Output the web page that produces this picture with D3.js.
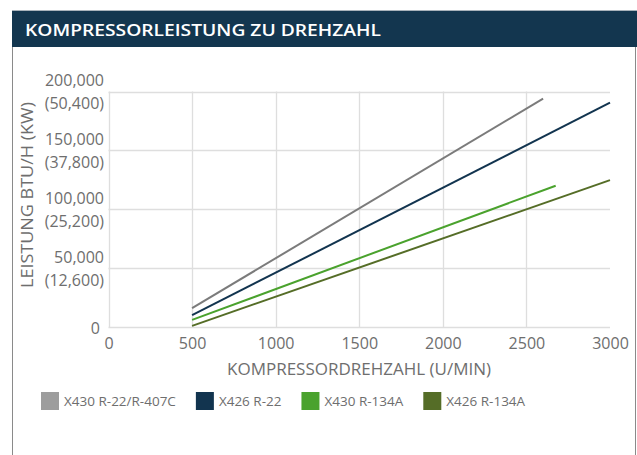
<!DOCTYPE html>
<html>
<head>
<meta charset="utf-8">
<script src="https://cdn.jsdelivr.net/npm/d3@7"></script>
<style>
  html, body { margin: 0; padding: 0; background: #fff; }
  svg { display: block; font-family: "Open Sans", "Noto Sans", sans-serif; }
</style>
</head>
<body>
<svg id="chart" width="637" height="455"></svg>
<script>
// ---- data ----
const title = "KOMPRESSORLEISTUNG ZU DREHZAHL";
const xTitle = "KOMPRESSORDREHZAHL (U/MIN)";
const yTitle = "LEISTUNG BTU/H (KW)";
const seriesNames = ["X430 R-22/R-407C", "X426 R-22", "X430 R-134A", "X426 R-134A"];
const seriesRpm = [
  [500, 2600],
  [500, 3000],
  [500, 2675],
  [500, 3000]
];
const seriesBtu = [
  [16000, 194000],
  [10000, 190500],
  [6000, 120000],
  [1000, 124700]
];
const lineColors = ["#7b7b7b", "#12344f", "#4aa22d", "#556d27"];
const swatchColors = ["#9d9d9d", "#12344f", "#4aa22d", "#556d27"];
const xTicks = [0, 500, 1000, 1500, 2000, 2500, 3000];
const yTicks = [0, 50000, 100000, 150000, 200000];
const yTickBtu = ["0", "50,000", "100,000", "150,000", "200,000"];
const yTickKw = ["", "(12,600)", "(25,200)", "(37,800)", "(50,400)"];

// ---- layout ----
const W = 637, H = 455;
const plot = { left: 108.5, right: 610, top: 91.5, bottom: 327 };
const textColor = "#6e6e6e";
const gridColor = "#dedede";

const svg = d3.select("#chart");

// frame
svg.append("line").attr("x1", 12.5).attr("x2", 12.5).attr("y1", 46).attr("y2", H)
  .attr("stroke", "#8a8a8a").attr("stroke-width", 1);
svg.append("line").attr("x1", 635.5).attr("x2", 635.5).attr("y1", 46).attr("y2", H)
  .attr("stroke", "#8a8a8a").attr("stroke-width", 1);

// title bar
svg.append("rect").attr("x", 12).attr("y", 10).attr("width", W - 12).attr("height", 37)
  .attr("fill", "#13364f");
svg.append("line").attr("x1", 12).attr("x2", W).attr("y1", 10.5).attr("y2", 10.5)
  .attr("stroke", "#a9b3bb").attr("stroke-width", 1);
svg.append("text").attr("x", 25).attr("y", 35.5)
  .attr("fill", "#ffffff").attr("font-size", 16).attr("font-weight", 600)
  .attr("textLength", 356).attr("lengthAdjust", "spacingAndGlyphs")
  .text(title);

// scales
const x = d3.scaleLinear().domain([0, 3000]).range([plot.left, plot.right]);
const y = d3.scaleLinear().domain([0, 200000]).range([plot.bottom, plot.top]);

// grid
const grid = svg.append("g");
grid.selectAll("line.h").data(yTicks).join("line")
  .attr("x1", plot.left).attr("x2", plot.right)
  .attr("y1", d => Math.round(y(d)) + 0.5).attr("y2", d => Math.round(y(d)) + 0.5)
  .attr("stroke", gridColor).attr("stroke-width", 1.3);
grid.selectAll("line.v").data(xTicks.filter(d => d < 3000)).join("line")
  .attr("x1", d => Math.round(x(d)) + 0.5).attr("x2", d => Math.round(x(d)) + 0.5)
  .attr("y1", plot.top).attr("y2", plot.bottom)
  .attr("stroke", gridColor).attr("stroke-width", 1.3);

// x axis labels
const xAxis = d3.axisBottom(x).tickValues(xTicks).tickSize(0).tickPadding(0)
  .tickFormat(d3.format("d"));
const gx = svg.append("g").attr("transform", `translate(0,${plot.bottom})`).call(xAxis);
gx.select(".domain").remove();
gx.selectAll("text").attr("font-size", 16).attr("fill", textColor)
  .attr("font-family", "Open Sans, Noto Sans, sans-serif")
  .attr("dy", null).attr("y", 21.5);

// y axis labels (two lines)
const gy = svg.append("g");
yTicks.forEach((v, i) => {
  const t = gy.append("text").attr("text-anchor", "end").attr("font-size", 16)
    .attr("fill", textColor).attr("x", 104);
  if (yTickKw[i]) {
    t.append("tspan").attr("x", 104).attr("y", y(v) - 5.5).text(yTickBtu[i]);
    t.append("tspan").attr("x", 104).attr("y", y(v) + 17.5).text(yTickKw[i]);
  } else {
    t.attr("y", y(v) + 6.5).attr("x", 100).text(yTickBtu[i]);
  }
});

// axis titles
svg.append("text").attr("x", (227 + 491) / 2).attr("y", 374.5)
  .attr("text-anchor", "middle").attr("font-size", 17).attr("fill", textColor)
  .attr("textLength", 264).attr("lengthAdjust", "spacingAndGlyphs")
  .text(xTitle);
svg.append("text")
  .attr("transform", `translate(32.5,${(102 + 288) / 2}) rotate(-90)`)
  .attr("text-anchor", "middle").attr("font-size", 17).attr("fill", textColor)
  .attr("textLength", 186).attr("lengthAdjust", "spacingAndGlyphs")
  .text(yTitle);

// lines
const line = d3.line().x(d => x(d[0])).y(d => y(d[1]));
seriesNames.forEach((name, i) => {
  const pts = seriesRpm[i].map((r, j) => [r, seriesBtu[i][j]]);
  svg.append("path").datum(pts).attr("d", line)
    .attr("fill", "none").attr("stroke", lineColors[i]).attr("stroke-width", 2);
});

// legend
const lg = svg.append("g");
let lx = 41;
seriesNames.forEach((name, i) => {
  lg.append("rect").attr("x", lx).attr("y", 392).attr("width", 18).attr("height", 18)
    .attr("fill", swatchColors[i]);
  const t = lg.append("text").attr("x", lx + 23).attr("y", 406)
    .attr("font-size", 13.5).attr("fill", textColor).text(name);
  lx = lx + 23 + t.node().getComputedTextLength() + 20;
});
</script>
</body>
</html>
